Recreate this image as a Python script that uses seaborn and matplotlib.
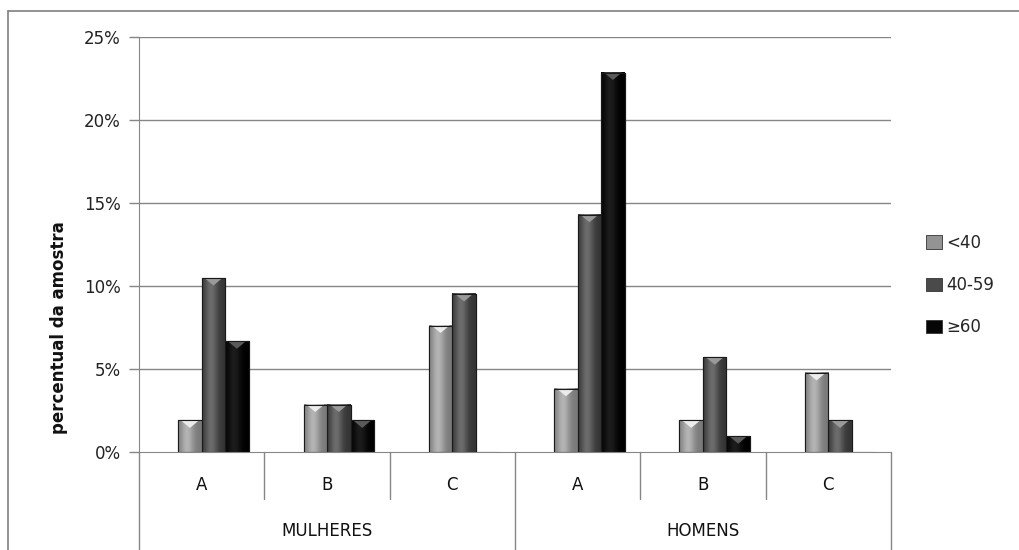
import numpy as np
import pandas as pd
import matplotlib
matplotlib.use("Agg")
import matplotlib.pyplot as plt
import seaborn as sns
from matplotlib.patches import Patch, Polygon
from matplotlib.lines import Line2D
import matplotlib.transforms as mtransforms

sns.set_style("white")
plt.rcParams["font.family"] = ["DejaVu Sans"]

# data (percent of sample)
groups = ["MULHERES", "MULHERES", "MULHERES", "HOMENS", "HOMENS", "HOMENS"]
classes = ["A", "B", "C", "A", "B", "C"]
age_labels = ["<40", "40-59", "≥60"]
lt40 = [1.90, 2.86, 7.62, 3.81, 1.90, 4.76]
a40_59 = [10.48, 2.86, 9.52, 14.29, 5.71, 1.90]
ge60 = [6.67, 1.90, 0.0, 22.86, 0.95, 0.0]
yticks = [0, 5, 10, 15, 20, 25]

colors = {"<40": "#939393", "40-59": "#4a4a4a", "≥60": "#060606"}
grad_lo = {"<40": "#7a7a7a", "40-59": "#353535", "≥60": "#000000"}
grad_hi = {"<40": "#b4b4b4", "40-59": "#6c6c6c", "≥60": "#1c1c1c"}
tri_col = {"<40": "#ececec", "40-59": "#9a9a9a", "≥60": "#5a5a5a"}

keys = [g + " " + c for g, c in zip(groups, classes)]
rows = []
for i, k in enumerate(keys):
    rows.append((k, "_blank", 0.0))
    rows.append((k, "<40", lt40[i]))
    rows.append((k, "40-59", a40_59[i]))
    rows.append((k, "≥60", ge60[i]))
df = pd.DataFrame(rows, columns=["cat", "idade", "pct"])

fig = plt.figure(figsize=(10.19, 5.5), dpi=100)
ax = fig.add_axes([139 / 1019, 1 - 452 / 550, (891 - 139) / 1019, 415 / 550])

hue_order = ["_blank"] + age_labels
pal = {"_blank": "white", **colors}
sns.barplot(data=df, x="cat", y="pct", hue="idade", hue_order=hue_order,
            order=keys, palette=pal, width=0.75, gap=0, legend=False,
            edgecolor="#1a1a1a", linewidth=0.8, saturation=1, ax=ax)

ax.set_xlim(-0.5, 5.5)
ax.set_ylim(0, 25)

# shading of the bars, taken from the bars seaborn drew
for cont, lvl in zip(ax.containers, hue_order):
    if lvl == "_blank":
        for b in cont:
            b.set_visible(False)
        continue
    lo = np.array(matplotlib.colors.to_rgb(grad_lo[lvl]))
    hi = np.array(matplotlib.colors.to_rgb(grad_hi[lvl]))
    t = np.linspace(0, 1, 40)
    w = np.exp(-((t - 0.38) / 0.28) ** 2)
    grad = lo[None, :] * (1 - w[:, None]) + hi[None, :] * w[:, None]
    for b in cont:
        h = b.get_height()
        if not h or h <= 0:
            continue
        x0, bw = b.get_x(), b.get_width()
        ax.imshow(grad[None, :, :], extent=[x0, x0 + bw, 0, h], aspect="auto",
                  zorder=b.get_zorder() + 0.1, interpolation="bilinear")
        d = 0.45
        ax.add_patch(Polygon([[x0 + 0.12 * bw, h], [x0 + 0.88 * bw, h],
                              [x0 + 0.5 * bw, h - d]], closed=True,
                             facecolor=tri_col[lvl], edgecolor="none",
                             zorder=b.get_zorder() + 0.2))
        ax.add_patch(plt.Rectangle((x0, 0), bw, h, fill=False,
                                   edgecolor="#1a1a1a", lw=0.8,
                                   zorder=b.get_zorder() + 0.3))

ax.set_xlim(-0.5, 5.5)
ax.set_ylim(0, 25)

# grid and axes
ax.set_yticks(yticks)
ax.set_yticklabels([f"{v}%" for v in yticks], fontsize=12, color="#222222")
for v in yticks[1:]:
    ax.axhline(v, color="#868686", lw=1, zorder=0)
ax.tick_params(axis="y", length=7, width=1, color="#868686", pad=6,
               direction="out", left=True)
ax.set_xticks([])
ax.set_xlabel("")
for s in ["top", "right"]:
    ax.spines[s].set_visible(False)
ax.spines["left"].set_color("#868686")
ax.spines["bottom"].set_color("#868686")

ax.set_ylabel("percentual da amostra", fontsize=12, fontweight="bold",
              color="#111111")
ax.yaxis.set_label_coords(-0.094, (452 - 328) / 415)

# two-level category axis
trans = mtransforms.blended_transform_factory(ax.transData, ax.transAxes)
for i, c in enumerate(classes):
    ax.text(i, -0.08, c, transform=trans, ha="center", va="center",
            fontsize=12, color="#111111")
for xd in [0.5, 1.5, 3.5, 4.5]:
    ax.plot([xd, xd], [0, -0.113], transform=trans, color="#868686", lw=1,
            clip_on=False)
for xd in [-0.5, 2.5, 5.5]:
    ax.plot([xd, xd], [0, -0.3], transform=trans, color="#868686", lw=1,
            clip_on=False)
for gi, g in enumerate(["MULHERES", "HOMENS"]):
    ax.text(gi * 3 + 1, -0.19, g, transform=trans, ha="center", va="center",
            fontsize=12, color="#111111")

# legend
handles = [Patch(facecolor=colors[l], edgecolor="#333333", lw=0.6) for l in age_labels]
fig.legend(handles, age_labels, loc="center left",
           bbox_to_anchor=(926 / 1019, 1 - 285 / 550), frameon=False,
           fontsize=12, handlelength=0.95, handleheight=0.85,
           handletextpad=0.25, labelspacing=1.45, borderpad=0,
           borderaxespad=0)

# outer frame of the chart area
fx = 8 / 1019
fy = 1 - 10.5 / 550
fig.add_artist(Line2D([fx, fx], [0, fy], color="#7f7f7f", lw=1.2))
fig.add_artist(Line2D([fx, 1], [fy, fy], color="#7f7f7f", lw=1.2))

fig.savefig("out.png", dpi=100)
